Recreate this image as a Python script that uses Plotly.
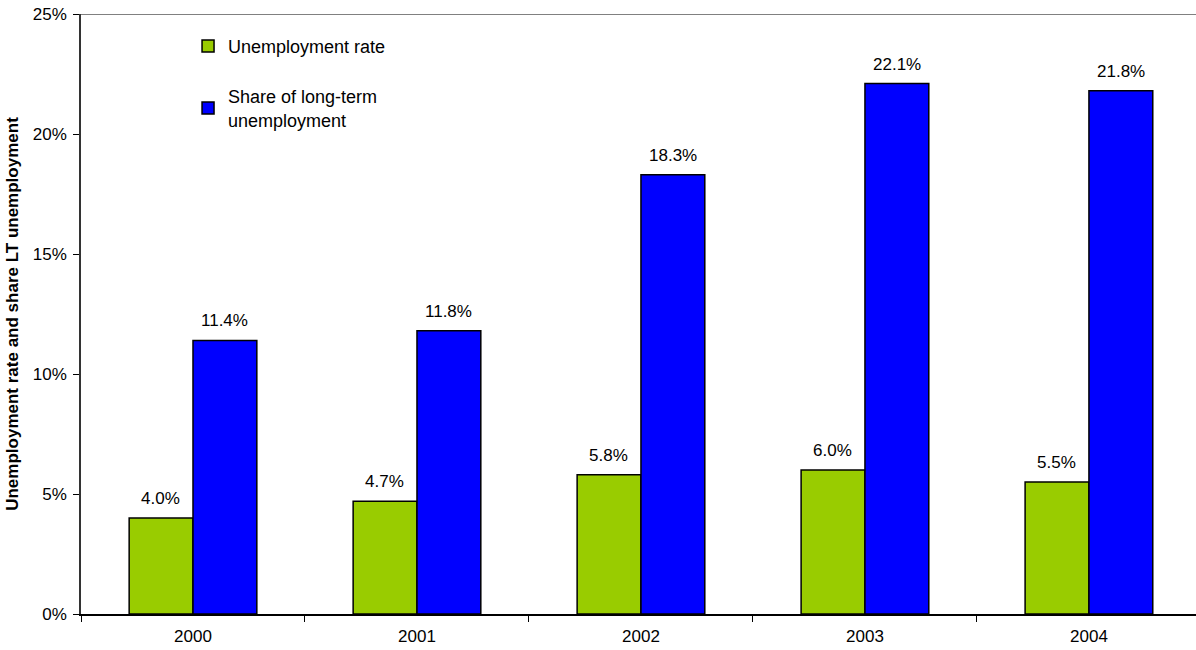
import plotly.graph_objects as go

years = ["2000", "2001", "2002", "2003", "2004"]
unemployment_rate = [4.0, 4.7, 5.8, 6.0, 5.5]
lt_share = [11.4, 11.8, 18.3, 22.1, 21.8]

FONT = "Liberation Sans, Arial, sans-serif"

fig = go.Figure()
fig.add_trace(go.Bar(
    x=years, y=unemployment_rate, name="Unemployment rate",
    marker=dict(color="#99CC00", line=dict(color="black", width=1.5)),
    legendgroup="a",
))
fig.add_trace(go.Bar(
    x=years, y=lt_share, name="Share of long-term<br>unemployment",
    marker=dict(color="#0000FF", line=dict(color="black", width=1.5)),
    legendgroup="b",
))

for series, shift in ((unemployment_rate, -32), (lt_share, 32)):
    for i, v in enumerate(series):
        fig.add_annotation(x=i, y=v, xref="x", yref="y", text=f"{v:.1f}%",
                           showarrow=False, xshift=shift, yshift=8,
                           yanchor="bottom",
                           font=dict(size=17, color="black", family=FONT))

fig.update_layout(
    width=1196, height=650,
    margin=dict(l=81, r=0, t=14, b=36),
    plot_bgcolor="white", paper_bgcolor="white",
    font=dict(family=FONT, size=17, color="black"),
    barmode="group", bargap=0.43, bargroupgap=0,
    showlegend=True,
    legend=dict(x=0.096, y=0.977, xanchor="left", yanchor="top",
                bgcolor="rgba(0,0,0,0)", font=dict(size=18),
                traceorder="grouped", tracegroupgap=24, itemwidth=30),
    xaxis=dict(type="category", range=[-0.5, 4.478], tickson="boundaries",
               ticks="outside", ticklen=6, tickcolor="black",
               ticklabelstandoff=6,
               showline=True, linecolor="black", linewidth=1.5,
               showgrid=False, tickfont=dict(size=17)),
    yaxis=dict(range=[0, 25], dtick=5, ticksuffix="%", ticks="outside",
               ticklen=6, tickcolor="black", showline=True, linecolor="#333333",
               ticklabelstandoff=3,
               linewidth=1.5, showgrid=False, zeroline=False,
               tickfont=dict(size=17),
               title=dict(text="<b>Unemployment rate and share LT unemployment</b>",
                          font=dict(size=17), standoff=10)),
)
fig.add_shape(type="line", xref="paper", yref="y", x0=0, x1=1, y0=25, y1=25,
              line=dict(color="#808080", width=2))

fig.write_html("out.html")
